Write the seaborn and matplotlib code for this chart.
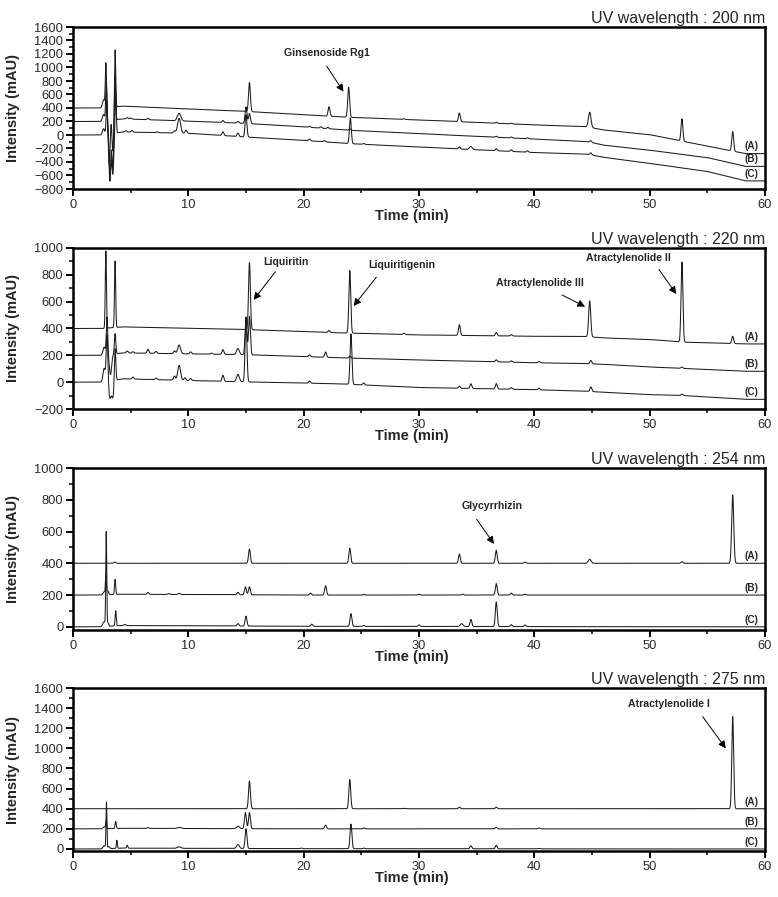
import numpy as np
import pandas as pd
import matplotlib
matplotlib.use("Agg")
import matplotlib.pyplot as plt
import seaborn as sns
from matplotlib.ticker import MultipleLocator

sns.set_style("ticks")
plt.rcParams["font.family"] = ["Liberation Sans", "DejaVu Sans"]

# ---------------- data ----------------
SAMPLES = ["(A)", "(B)", "(C)"]
WAVELENGTHS = ["200", "220", "254", "275"]
DEFAULT_SIGMA = 0.08  # min

# 200 nm: baseline anchors (time, per-trace values) and peaks (time, height above baseline[, sigma])
BASE_T_200 = [0, 2.5, 4.3, 10, 15, 20, 24, 30, 40, 44.5, 46, 50, 55, 58.3, 60]
BASE_200_A = [400, 400, 428, 385, 350, 300, 262, 222, 150, 122, 75, 5, -165, -275, -275]
BASE_200_B = [200, 200, 240, 205, 172, 120, 70, 20, -60, -95, -150, -225, -335, -465, -465]
BASE_200_C = [0, 0, 45, 25, -30, -80, -128, -178, -260, -282, -330, -420, -540, -680, -680]
PEAKS_200_A = [(2.65, 120, 0.1), (2.85, 650, 0.05), (3.15, -850, 0.08), (3.45, -650, 0.08),
               (3.65, 870, 0.05), (15.3, 430), (22.2, 140), (23.9, 445), (28.7, 10),
               (33.5, 130), (36.7, 15), (38.0, 10), (44.8, 225, 0.11), (52.8, 330),
               (57.2, 290)]
PEAKS_200_B = [(2.65, 100, 0.1), (2.88, 580, 0.05), (3.2, -800, 0.08), (3.45, -700, 0.08),
               (3.65, 700, 0.05), (4.7, 20), (5.0, 15), (6.5, 20), (9.2, 110, 0.15),
               (13.0, 30), (14.3, 25), (15.0, 245), (15.3, 150), (20.5, 15), (21.5, 20),
               (22.1, 20), (24.0, 20), (36.7, 15), (38.0, 15), (39.4, 12), (44.9, 25)]
PEAKS_200_C = [(2.65, 90, 0.1), (2.92, 500, 0.05), (3.2, -700, 0.08), (3.45, -600, 0.08),
               (3.7, 600, 0.05), (4.6, 20), (5.1, 25), (7.3, 12), (8.8, 30),
               (9.2, 220, 0.13), (9.8, 45), (13.0, 55), (14.3, 50), (15.0, 330),
               (20.5, 25), (21.8, 20), (24.05, 380), (25.2, 12), (33.5, 30),
               (34.5, 45, 0.12), (36.7, 30), (38.0, 25), (39.4, 20), (44.9, 30)]

# 220 nm
BASE_T_220 = [0, 2.5, 4.3, 15, 23, 30, 40, 44.5, 46, 50, 53, 58.3, 60]
BASE_220_A = [400, 400, 412, 392, 368, 352, 342, 340, 330, 318, 298, 285, 285]
BASE_220_B = [200, 200, 218, 205, 182, 165, 145, 138, 133, 113, 102, 81, 81]
BASE_220_C = [0, 0, 25, 2, -12, -40, -56, -68, -75, -93, -100, -128, -128]
PEAKS_220_A = [(2.85, 575, 0.05), (3.65, 495, 0.05), (15.3, 500), (22.2, 15), (24.0, 465),
               (28.7, 10), (33.5, 80), (36.7, 25), (38.0, 10), (44.8, 268, 0.09),
               (52.8, 595), (57.2, 55)]
PEAKS_220_B = [(2.7, 60, 0.1), (2.95, 280, 0.06), (3.25, -150, 0.1), (3.65, 150, 0.06),
               (4.7, 15), (5.2, 10), (6.5, 30), (7.2, 15), (8.8, 20), (9.2, 65, 0.12),
               (10.2, 15), (12.0, 8), (13.0, 35), (14.3, 45, 0.12), (15.0, 280),
               (15.3, 285), (20.5, 15), (21.9, 40), (24.0, 15), (36.7, 15), (38.0, 10),
               (40.4, 10), (44.9, 25), (52.8, 10)]
PEAKS_220_C = [(2.7, 100, 0.1), (2.95, 350, 0.07), (3.2, -125, 0.1), (3.45, -125, 0.1),
               (3.65, 250, 0.06), (5.2, 15), (7.2, 12), (8.8, 30), (9.2, 110, 0.12),
               (9.7, 20), (10.2, 15), (13.0, 45), (14.3, 55, 0.12), (15.0, 470),
               (20.5, 15), (24.1, 375), (25.2, 15), (33.5, 15), (34.5, 35), (36.7, 40),
               (38.0, 12), (40.4, 12), (44.9, 35), (52.8, 10)]

# 254 nm
BASE_T_254 = [0, 2.5, 4.0, 12, 20, 60]
BASE_254_A = [400, 400, 400, 400, 400, 400]
BASE_254_B = [200, 200, 205, 203, 200, 200]
BASE_254_C = [0, 0, 8, 6, 3, 0]
PEAKS_254_A = [(3.6, 8), (15.3, 90), (24.0, 95), (33.5, 58), (36.7, 82), (39.2, 8),
               (44.8, 25, 0.12), (52.8, 10), (57.2, 430, 0.09)]
PEAKS_254_B = [(2.7, 20, 0.1), (2.85, 115, 0.04), (3.0, 25), (3.65, 95, 0.05), (6.5, 12),
               (8.3, 5), (9.2, 8), (14.3, 15), (14.95, 50), (15.3, 50), (20.6, 12),
               (21.9, 58), (25.2, 5), (30.0, 6), (33.8, 6), (36.7, 72), (38.0, 12),
               (39.2, 6)]
PEAKS_254_C = [(2.7, 30, 0.12), (2.88, 580, 0.04), (3.0, 25), (3.7, 95, 0.05), (4.5, 8),
               (14.3, 15), (15.0, 62), (20.7, 14), (24.1, 80), (25.2, 6), (30.0, 10),
               (33.7, 18, 0.12), (34.5, 45), (36.7, 155), (38.0, 12), (39.2, 10)]

# 275 nm
BASE_T_275 = [0, 2.5, 4.0, 12, 20, 60]
BASE_275_A = [400, 400, 400, 400, 400, 400]
BASE_275_B = [200, 200, 205, 203, 200, 200]
BASE_275_C = [0, 0, 8, 6, 3, 0]
PEAKS_275_A = [(15.3, 275), (24.0, 290), (28.7, 4), (33.5, 15), (36.7, 15),
               (57.2, 915, 0.08)]
PEAKS_275_B = [(2.7, 20, 0.1), (2.88, 80, 0.04), (3.7, 70, 0.05), (6.5, 8),
               (9.2, 12, 0.15), (14.3, 25, 0.12), (14.95, 160), (15.3, 160), (21.9, 38),
               (25.2, 8), (36.7, 15), (40.4, 8)]
PEAKS_275_C = [(2.7, 30, 0.1), (2.9, 460, 0.04), (3.1, 20), (3.8, 80, 0.04),
               (4.7, 30, 0.05), (9.2, 15, 0.15), (14.3, 40, 0.12), (15.0, 195),
               (19.8, 6), (24.1, 245), (25.2, 6), (34.5, 30), (36.7, 35), (40.4, 5)]

YLIMS = [(-800, 1600), (-200, 1000), (-20, 1000), (-20, 1600)]

ANNOTATIONS = {
    "200": [("Ginsenoside Rg1", (22.05, 1215), (22.0, 1020), (23.45, 642))],
    "220": [("Liquiritin", (18.5, 893), (17.55, 823), (15.66, 613)),
            ("Liquiritigenin", (28.5, 873), (26.3, 782), (24.33, 568)),
            ("Atractylenolide III", (40.5, 742), (42.4, 650), (44.4, 563)),
            ("Atractylenolide II", (48.2, 923), (50.8, 841), (52.3, 657))],
    "254": [("Glycyrrhizin", (36.3, 761), (35.0, 677), (36.5, 522))],
    "275": [("Atractylenolide I", (51.7, 1438), (54.6, 1315), (56.6, 1000))],
}

PANELS = {
    "200": (BASE_T_200, [BASE_200_A, BASE_200_B, BASE_200_C], [PEAKS_200_A, PEAKS_200_B, PEAKS_200_C]),
    "220": (BASE_T_220, [BASE_220_A, BASE_220_B, BASE_220_C], [PEAKS_220_A, PEAKS_220_B, PEAKS_220_C]),
    "254": (BASE_T_254, [BASE_254_A, BASE_254_B, BASE_254_C], [PEAKS_254_A, PEAKS_254_B, PEAKS_254_C]),
    "275": (BASE_T_275, [BASE_275_A, BASE_275_B, BASE_275_C], [PEAKS_275_A, PEAKS_275_B, PEAKS_275_C]),
}

# ---------------- build traces from the peak tables ----------------
t = np.linspace(0, 60, 12001)


def trace(base_t, base_v, peaks):
    y = np.interp(t, base_t, base_v)
    for p in peaks:
        pos, h = p[0], p[1]
        s = p[2] if len(p) > 2 else DEFAULT_SIGMA
        y = y + h * np.exp(-0.5 * ((t - pos) / s) ** 2)
    return y


rows = []
for wl, (bt, bases, peaks) in PANELS.items():
    for sample, bv, pk in zip(SAMPLES, bases, peaks):
        rows.append(pd.DataFrame({"wl": wl, "sample": sample, "time": t,
                                  "intensity": trace(bt, bv, pk)}))
df = pd.concat(rows, ignore_index=True)

# ---------------- figure ----------------
fig = plt.figure(figsize=(7.78, 8.97), dpi=100)
W, H = 778, 897
boxes = [(27, 189), (248, 409), (468, 630), (688, 851)]
LEFT, RIGHT = 73, 765

for i, wl in enumerate(WAVELENGTHS):
    top, bot = boxes[i]
    ax = fig.add_axes([LEFT / W, 1 - bot / H, (RIGHT - LEFT) / W, (bot - top) / H])
    sub = df[df["wl"] == wl]
    sns.lineplot(data=sub, x="time", y="intensity", units="sample", estimator=None,
                 color="#1c1c1c", linewidth=0.75, sort=False, ax=ax, legend=False)
    ax.set_xlim(0, 60)
    ax.set_ylim(*YLIMS[i])
    ax.xaxis.set_major_locator(MultipleLocator(10))
    ax.xaxis.set_minor_locator(MultipleLocator(5))
    ax.yaxis.set_major_locator(MultipleLocator(200))
    ax.yaxis.set_minor_locator(MultipleLocator(100))
    for sp in ax.spines.values():
        sp.set_visible(True)
        sp.set_linewidth(1.8)
        sp.set_color("black")
    ax.tick_params(which="major", direction="out", length=5, width=1.4,
                   labelsize=9.3, colors="black", labelcolor="#2a2a2a", pad=2)
    ax.tick_params(which="minor", direction="out", length=3, width=1.1, colors="black")
    ax.set_xlabel("Time (min)", fontsize=10.5, fontweight="bold", labelpad=1)
    ax.set_ylabel("Intensity (mAU)", fontsize=10.5, fontweight="bold")
    ax.yaxis.set_label_coords(-0.077, 0.5)
    ax.xaxis.set_label_coords(0.49, -0.125)
    ax.set_title(f"UV wavelength : {wl} nm", loc="right", fontsize=11.5, pad=3)

    bt, bases, _ = PANELS[wl]
    for sample, bv in zip(SAMPLES, bases):
        ax.annotate(sample, xy=(58.8, bv[-1]), xytext=(0, 1.5), textcoords="offset points",
                    ha="center", va="bottom", fontsize=7.2, fontweight="bold")

    for label, txt_xy, a_from, a_to in ANNOTATIONS[wl]:
        ax.text(txt_xy[0], txt_xy[1], label, ha="center", va="center",
                fontsize=7.6, fontweight="bold")
        ax.annotate("", xy=a_to, xytext=a_from,
                    arrowprops=dict(arrowstyle="-|>", color="black", lw=0.7,
                                    mutation_scale=11, shrinkA=0, shrinkB=0))

fig.savefig("out.png", dpi=100)
